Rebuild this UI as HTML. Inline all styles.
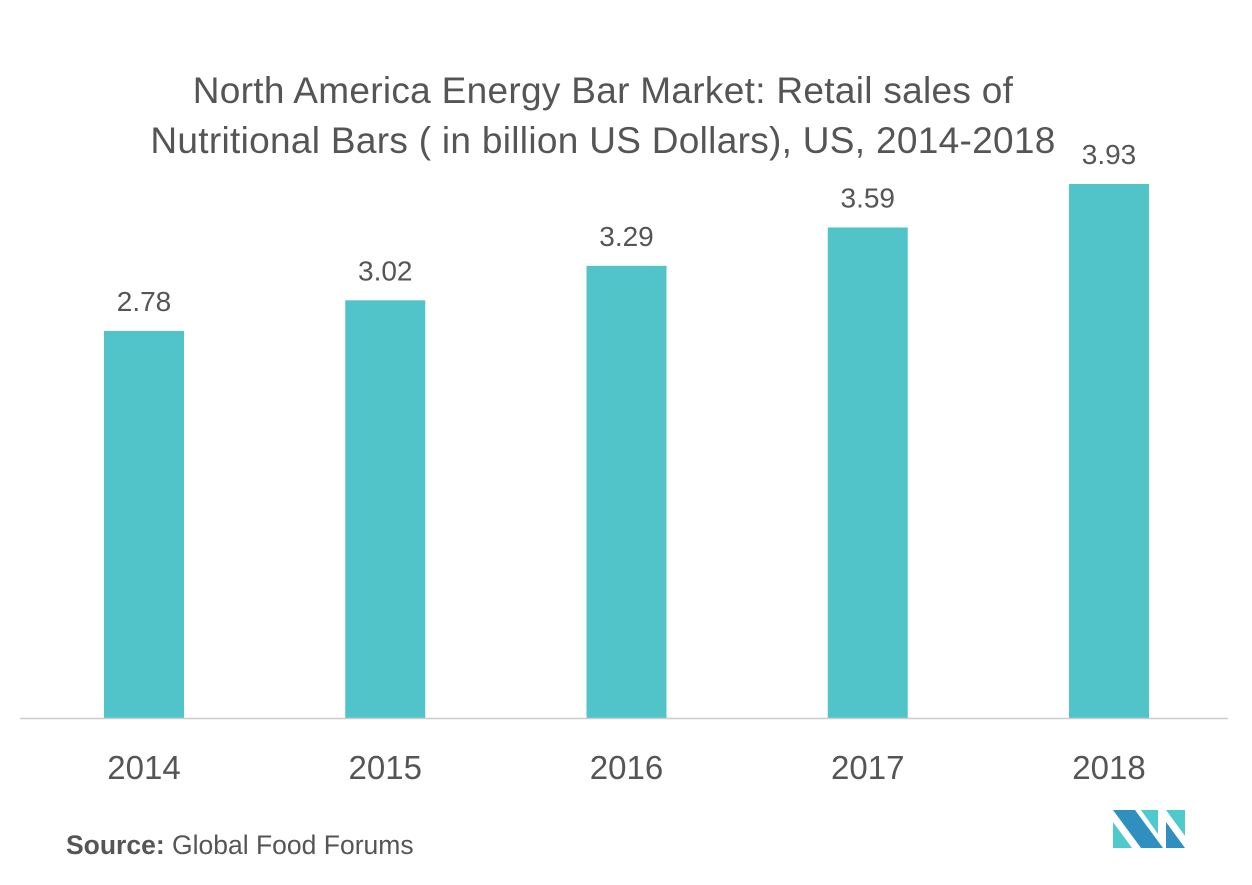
<!DOCTYPE html>
<html><head><meta charset="utf-8"><style>
body{margin:0;background:#fff;font-family:"Liberation Sans",sans-serif;}
</style></head><body>
<svg id="chart" width="1252" height="880" xmlns="http://www.w3.org/2000/svg">
<text x="603" y="103" text-anchor="middle" font-size="37" letter-spacing="0.3" fill="#555">North America Energy Bar Market: Retail sales of</text>
<text x="603" y="153" text-anchor="middle" font-size="37" letter-spacing="0.3" fill="#555">Nutritional Bars ( in billion US Dollars), US, 2014-2018</text>
<g id="bars"></g>
<line x1="20" y1="718.5" x2="1228" y2="718.5" stroke="#ccc" stroke-width="1.5"/>
<text x="66" y="854" font-size="26.5" fill="#555"><tspan font-weight="bold">Source:</tspan> Global Food Forums</text>
<g>
<polygon points="1113,810 1135,810 1163,848 1141,848" fill="#2f8fbf"/>
<polygon points="1113,822 1132,848 1113,848" fill="#4ec9cc"/>
<polygon points="1141,810 1158,810 1158,834" fill="#4ec9cc"/>
<polygon points="1166,810 1185,810 1185,836" fill="#4ec9cc"/>
<polygon points="1166,822 1185,848 1166,848" fill="#2f8fbf"/>
</g>
</svg>
<script>
const categories=["2014","2015","2016","2017","2018"];
const values=[2.78,3.02,3.29,3.59,3.93];
const yMin=-0.248, yMax=3.93;
const baseY=718, topY=184;
function y(v){return baseY-(v-yMin)/(yMax-yMin)*(baseY-topY);}
function xc(i){return 144+i*241.25;}
const g=document.getElementById('bars');
const ns="http://www.w3.org/2000/svg";
categories.forEach((c,i)=>{
 const r=document.createElementNS(ns,'rect');
 r.setAttribute('x',xc(i)-40);r.setAttribute('width',80);
 r.setAttribute('y',y(values[i]));r.setAttribute('height',baseY-y(values[i]));
 r.setAttribute('fill','#50c4c9');
 
 
 g.appendChild(r);
 const t=document.createElementNS(ns,'text');
 t.setAttribute('x',xc(i));t.setAttribute('y',y(values[i])-20);
 t.setAttribute('text-anchor','middle');t.setAttribute('font-size','28');t.setAttribute('fill','#555');
 t.textContent=values[i].toFixed(2);
 
 
 g.appendChild(t);
 const l=document.createElementNS(ns,'text');
 l.setAttribute('x',xc(i));l.setAttribute('y',779);
 l.setAttribute('text-anchor','middle');l.setAttribute('font-size','33');l.setAttribute('fill','#555');
 l.textContent=c;
 
 
 g.appendChild(l);
});
</script>
</body></html>
